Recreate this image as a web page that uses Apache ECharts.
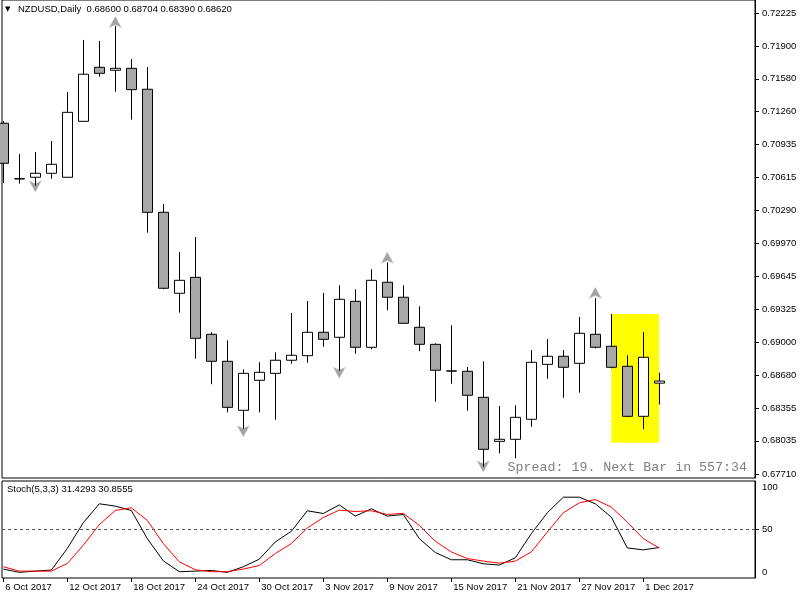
<!DOCTYPE html>
<html>
<head>
<meta charset="utf-8">
<script src="https://cdn.jsdelivr.net/npm/echarts@6/dist/echarts.min.js"></script>
<style>
html, body { margin: 0; padding: 0; background: #fff; }
#chart { width: 800px; height: 600px; }
</style>
</head>
<body>
<div id="chart"></div>
<script>
// NZDUSD daily bars, 6 Oct 2017 - 4 Dec 2017
const dates = ['6 Oct 2017', '9 Oct 2017', '10 Oct 2017', '11 Oct 2017', '12 Oct 2017', '13 Oct 2017',
  '16 Oct 2017', '17 Oct 2017', '18 Oct 2017', '19 Oct 2017', '20 Oct 2017', '23 Oct 2017',
  '24 Oct 2017', '25 Oct 2017', '26 Oct 2017', '27 Oct 2017', '30 Oct 2017', '31 Oct 2017',
  '1 Nov 2017', '2 Nov 2017', '3 Nov 2017', '6 Nov 2017', '7 Nov 2017', '8 Nov 2017',
  '9 Nov 2017', '10 Nov 2017', '13 Nov 2017', '14 Nov 2017', '15 Nov 2017', '16 Nov 2017',
  '17 Nov 2017', '20 Nov 2017', '21 Nov 2017', '22 Nov 2017', '23 Nov 2017', '24 Nov 2017',
  '27 Nov 2017', '28 Nov 2017', '29 Nov 2017', '30 Nov 2017', '1 Dec 2017', '4 Dec 2017'];

const opens = [0.71145, 0.70602, 0.70616, 0.70655, 0.70616, 0.71164, 0.71693, 0.71664, 0.71683, 0.71478,
  0.70273, 0.69480, 0.69636, 0.69078, 0.68814, 0.68334, 0.68628, 0.68696, 0.68824, 0.68869,
  0.69098, 0.69049, 0.69401, 0.68951, 0.69588, 0.69441, 0.69147, 0.68980, 0.68720, 0.68716,
  0.68461, 0.68030, 0.68050, 0.68246, 0.68784, 0.68863, 0.68794, 0.69078, 0.68961, 0.68765,
  0.68275, 0.68600];
const highs = [0.71167, 0.70844, 0.70864, 0.70971, 0.71451, 0.71961, 0.71951, 0.72098, 0.71774, 0.71696,
  0.70354, 0.69884, 0.70031, 0.69098, 0.69019, 0.68735, 0.68804, 0.68902, 0.69287, 0.69404,
  0.69483, 0.69558, 0.69519, 0.69715, 0.69783, 0.69558, 0.69352, 0.68990, 0.69166, 0.68758,
  0.68814, 0.68376, 0.68383, 0.68924, 0.69032, 0.68924, 0.69248, 0.69434, 0.69277, 0.68873,
  0.69101, 0.68704];
const lows = [0.70560, 0.70553, 0.70534, 0.70602, 0.70610, 0.71160, 0.71601, 0.71454, 0.71180, 0.70073,
  0.69519, 0.69290, 0.68839, 0.68589, 0.68314, 0.68154, 0.68314, 0.68242, 0.68790, 0.68800,
  0.68957, 0.68722, 0.68888, 0.68931, 0.69313, 0.69180, 0.68912, 0.68418, 0.68594, 0.68330,
  0.67783, 0.67913, 0.67864, 0.68173, 0.68643, 0.68457, 0.68506, 0.68941, 0.68745, 0.68270,
  0.68148, 0.68390];
const closes = [0.70753, 0.70600, 0.70655, 0.70743, 0.71252, 0.71625, 0.71634, 0.71683, 0.71474, 0.70273,
  0.69529, 0.69607, 0.69039, 0.68814, 0.68363, 0.68696, 0.68706, 0.68824, 0.68873, 0.69098,
  0.69029, 0.69421, 0.68951, 0.69607, 0.69441, 0.69186, 0.68980, 0.68726, 0.68718, 0.68481,
  0.67952, 0.68050, 0.68265, 0.68804, 0.68863, 0.68755, 0.69088, 0.68951, 0.68755, 0.68275,
  0.68853, 0.68620];

// Stochastic(5,3,3): main (%K) and signal (%D)
const stochMain = [9.2, 5.8, 7.1, 8.2, 30.4, 57.0, 76.5, 74.1, 69.6, 40.6, 17.7, 6.5, 7.1, 7.8, 5.8,
  11.6, 19.4, 37.2, 48.1, 69.3, 66.5, 75.4, 63.8, 71.3, 63.8, 65.5, 40.6, 26.3, 18.8, 18.8,
  14.7, 13.3, 20.8, 45.7, 67.2, 83.3, 83.3, 76.5, 62.8, 31.0, 29.0, 31.4293];
const stochSignal = [11.6, 7.1, 7.1, 7.1, 15.0, 33.8, 55.0, 69.6, 72.4, 59.4, 35.5, 16.7, 8.5, 6.5, 6.5,
  9.2, 12.9, 25.2, 35.5, 51.5, 62.4, 70.0, 68.6, 69.3, 65.5, 66.6, 54.3, 37.9, 26.9, 20.1,
  17.4, 15.3, 17.4, 26.9, 47.4, 67.2, 77.5, 80.9, 73.1, 57.6, 40.6, 30.8555];

// fractal markers [bar index, price]
const fractalsUp = [[7, 0.72190], [24, 0.69881], [37, 0.69538]];
const fractalsDown = [[2, 0.70472], [15, 0.68075], [21, 0.68647], [30, 0.67730]];

// yellow rectangle object [bar index, price] corners
const boxCorners = [[38, 0.69277], [40.98, 0.68016]];

const priceTicks = [0.67710, 0.68035, 0.68355, 0.68680, 0.69000, 0.69325, 0.69645, 0.69970,
  0.70290, 0.70615, 0.70935, 0.71260, 0.71580, 0.71900, 0.72225];
const stochTicks = [0, 50, 100];
const dateTickIdx = [0, 4, 8, 12, 16, 20, 24, 28, 32, 36, 40];
const lastPrice = 0.68620;

const FONT = 'Liberation Sans';
const candles = dates.map((d, i) => [i, opens[i], closes[i], lows[i], highs[i]]);

const chart = echarts.init(document.getElementById('chart'), null, { renderer: 'canvas' });

const xBase = { type: 'value', min: -0.08125, max: 46.98125, splitLine: { show: false } };

chart.setOption({
  animation: false,
  backgroundColor: '#fff',
  grid: [
    { left: 2, right: 45, top: 0, height: 478, show: true, borderColor: '#000', borderWidth: 1, backgroundColor: '#fff' },
    { left: 2, right: 45, top: 481, height: 97, show: true, borderColor: '#000', borderWidth: 1, backgroundColor: '#fff' }
  ],
  xAxis: [
    Object.assign({ gridIndex: 0, axisLine: { show: false, onZero: false }, axisTick: { show: false }, axisLabel: { show: false } }, xBase),
    Object.assign({
      gridIndex: 1, position: 'bottom',
      axisLine: { show: false, onZero: false },
      axisTick: { show: true, length: 4, customValues: dateTickIdx, lineStyle: { color: '#000' } },
      axisLabel: {
        customValues: dateTickIdx, formatter: v => dates[v] || '',
        align: 'left', margin: 4, padding: [0, 0, 0, 2],
        color: '#000', fontFamily: FONT, fontSize: 9.5
      }
    }, xBase)
  ],
  yAxis: [
    {
      gridIndex: 0, type: 'value', position: 'right', min: 0.67671, max: 0.72352,
      splitLine: { show: false },
      axisLine: { show: true, onZero: false, lineStyle: { color: '#000' } },
      axisTick: { show: true, length: 4, inside: false, customValues: priceTicks, lineStyle: { color: '#000' } },
      axisLabel: {
        customValues: priceTicks, formatter: v => v.toFixed(5),
        margin: 7, color: '#000', fontFamily: FONT, fontSize: 9.5
      }
    },
    {
      gridIndex: 1, type: 'value', position: 'right', min: 0, max: 100,
      splitLine: { show: false },
      axisLine: { show: true, onZero: false, lineStyle: { color: '#000' } },
      axisTick: { show: true, length: 4, customValues: [50], lineStyle: { color: '#000' } },
      axisLabel: {
        customValues: stochTicks, margin: 7, color: '#000', fontFamily: FONT, fontSize: 9.5,
        formatter: v => v === 100 ? '{t|100}' : (v === 0 ? '{b|0}' : '{m|50}'),
        rich: {
          t: { padding: [12, 0, 0, 0], fontFamily: FONT, fontSize: 9.5, color: '#000' },
          m: { fontFamily: FONT, fontSize: 9.5, color: '#000' },
          b: { padding: [0, 0, 12, 0], fontFamily: FONT, fontSize: 9.5, color: '#000' }
        }
      }
    }
  ],
  series: [
    {
      name: 'fractal up', type: 'scatter', xAxisIndex: 0, yAxisIndex: 0, z: 1,
      data: fractalsUp, symbol: 'arrow', symbolSize: [9, 11],
      itemStyle: { color: '#8c8c8c', borderColor: '#b8c4d8', borderWidth: 0.5 },
      markArea: {
        silent: true,
        itemStyle: { color: '#ffff00' },
        data: [[{ coord: boxCorners[0] }, { coord: boxCorners[1] }]]
      }
    },
    {
      name: 'fractal down', type: 'scatter', xAxisIndex: 0, yAxisIndex: 0, z: 1,
      data: fractalsDown, symbol: 'arrow', symbolRotate: 180, symbolSize: [9, 11],
      itemStyle: { color: '#8c8c8c', borderColor: '#b8c4d8', borderWidth: 0.5 }
    },
    {
      name: 'NZDUSD', type: 'candlestick', xAxisIndex: 0, yAxisIndex: 0, z: 3, clip: true,
      encode: { x: 0, y: [1, 2, 3, 4] },
      data: candles, barWidth: 10,
      itemStyle: {
        color: '#ffffff', color0: '#a8a8a8',
        borderColor: '#000', borderColor0: '#000', borderColorDoji: '#000', borderWidth: 1
      },
      markLine: {
        silent: true, symbol: 'none',
        lineStyle: { opacity: 0 },
        label: {
          position: 'end', distance: 2, formatter: lastPrice.toFixed(5),
          backgroundColor: '#000', color: '#fff', padding: [1, 3, 1, 4],
          fontFamily: FONT, fontSize: 9.5
        },
        data: [{ yAxis: lastPrice }]
      }
    },
    {
      name: 'Main', type: 'line', xAxisIndex: 1, yAxisIndex: 1,
      data: stochMain.map((v, i) => [i, v]), showSymbol: false, z: 3,
      lineStyle: { color: '#000', width: 1 },
      markLine: {
        silent: true, symbol: 'none', label: { show: false },
        lineStyle: { color: '#555', type: [3, 3], width: 1 },
        data: [{ yAxis: 50 }]
      }
    },
    {
      name: 'Signal', type: 'line', xAxisIndex: 1, yAxisIndex: 1,
      data: stochSignal.map((v, i) => [i, v]), showSymbol: false, z: 4,
      lineStyle: { color: '#ff0000', width: 1 }
    }
  ],
  graphic: [
    { type: 'text', left: 5, top: 6, z: 10, style: { text: '▼', fontSize: 7, fill: '#000', fontFamily: 'DejaVu Sans' } },
    { type: 'text', left: 18, top: 4, z: 10, style: {
      text: 'NZDUSD,Daily  0.68600 0.68704 0.68390 0.68620', fontSize: 9.5, fill: '#000', fontFamily: FONT } },
    { type: 'text', left: 7, top: 484, z: 10, style: {
      text: 'Stoch(5,3,3) 31.4293 30.8555', fontSize: 9.5, fill: '#000', fontFamily: FONT } },
    { type: 'text', right: 53, top: 461, z: 10, style: {
      text: 'Spread: 19. Next Bar in 557:34', fontSize: 13.3, fill: '#808080', fontFamily: 'Liberation Mono' } }
  ]
});
</script>
</body>
</html>
